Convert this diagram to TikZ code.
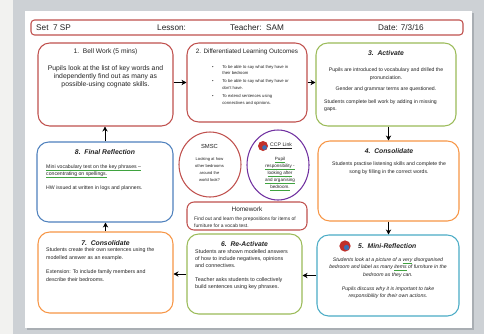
\documentclass[tikz,border=0pt]{standalone}
\usepackage{fontspec}
\setmainfont{Liberation Sans}
\usepackage{tikz}
\usetikzlibrary{arrows.meta, shapes.geometric, calc}
\definecolor{ink}{HTML}{222222}
\definecolor{redline}{HTML}{C0504D}
\definecolor{greenline}{HTML}{9BBB59}
\definecolor{orangeline}{HTML}{F79646}
\definecolor{blueline}{HTML}{4F81BD}
\definecolor{cyanline}{HTML}{4BACC6}
\definecolor{purpleline}{HTML}{7030A0}
\definecolor{squig}{HTML}{3FA33F}
\definecolor{leftbg}{HTML}{F2F2F0}
\definecolor{deskgray}{HTML}{CDD1D5}
\definecolor{shadowgray}{HTML}{A9AEB3}
\definecolor{iconred}{HTML}{C0302B}
\definecolor{iconblue}{HTML}{3A6FB5}
\newcommand\gul[1]{\setbox0\hbox{#1}\rlap{\textcolor{squig}{\rule[-0.6ex]{\wd0}{0.3pt}}}\box0}

\begin{document}
\begin{tikzpicture}[x=0.03cm, y=-0.03cm,
    stage/.style={rectangle, rounded corners=10pt, draw, line width=0.9pt,
                  fill=white, inner sep=0pt},
    bubble/.style={ellipse, draw, line width=0.9pt, fill=white, inner sep=0pt},
    hdr/.style={anchor=west, inner sep=0pt, text=ink,
                font=\fontsize{7}{8}\selectfont},
    ttl/.style={inner sep=0pt, text=ink, font=\fontsize{5.7}{7}\selectfont},
    bttl/.style={inner sep=0pt, text=ink,
                 font=\fontsize{5.8}{7}\selectfont\bfseries\itshape},
    body/.style={inner sep=0pt, text=ink, font=\fontsize{4.4}{6.2}\selectfont},
    badge/.style={circle, fill=iconred, inner sep=0pt, minimum size=0.34cm},
    flow/.style={-{Stealth[length=1.5mm, width=1.6mm]}, line width=0.8pt, black}
  ]
    \useasboundingbox (0,0) rectangle (484,334);

    % Desk and page
    \fill[deskgray] (13,0) rectangle (484,334);
    \fill[leftbg] (0,0) rectangle (13,334);
    \fill[shadowgray] (27,13) rectangle (474,330);
    \fill[white] (25,11) rectangle (472,328);

    % Header strip
    \node[rectangle, rounded corners=3pt, draw=redline, line width=0.9pt,
          minimum width=12.96cm, minimum height=0.45cm] (head) at (247,27.5) {};
    \node[hdr] (set) at (36,27.5) {Set\ \ 7 SP};
    \node[hdr] (lesson) at (157,27.5) {Lesson:};
    \node[hdr] (teacher) at (230,27.5) {Teacher:\ \ SAM};
    \node[hdr] (date) at (378,27.5) {Date: 7/3/16};

    % Stage boxes
    \node[stage, draw=redline, minimum width=4.05cm, minimum height=2.49cm] (b1) at (105.5,84.5) {};
    \node[stage, draw=redline, minimum width=3.6cm, minimum height=2.37cm] (b2) at (247,82.5) {};
    \node[stage, draw=greenline, minimum width=4.2cm, minimum height=2.49cm] (b3) at (386,84.5) {};
    \node[stage, draw=orangeline, minimum width=4.23cm, minimum height=2.4cm] (b4) at (388.5,181) {};
    \node[stage, draw=cyanline, minimum width=4.26cm, minimum height=2.43cm] (b5) at (388,275.5) {};
    \node[stage, draw=greenline, minimum width=3.45cm, minimum height=2.4cm] (b6) at (244.5,274) {};
    \node[stage, draw=orangeline, minimum width=4.05cm, minimum height=2.43cm] (b7) at (105.5,272.5) {};
    \node[stage, draw=blueline, minimum width=4.08cm, minimum height=2.4cm] (b8) at (105,182) {};

    % Centre panel
    \node[bubble, draw=redline, minimum width=1.86cm, minimum height=1.95cm] (smsc) at (210,164.5) {};
    \node[bubble, draw=purpleline, minimum width=1.86cm, minimum height=2.1cm] (ccp) at (278,165) {};
    \node[stage, draw=redline, rounded corners=6pt, minimum width=3.6cm, minimum height=0.84cm] (hw) at (247,216) {};

    % 1
    \node[ttl] (b1t) at (105.5,52) {1.\ \ Bell Work (5 mins)};
    \node[body, anchor=north, align=center, font=\fontsize{5.8}{7}\selectfont] (b1x) at (105.5,65)
      {Pupils look at the list of key words and\\
       independently find out as many as\\
       possible-using cognate skills.};

    % 2
    \node[ttl, font=\fontsize{5.4}{7}\selectfont] (b2t) at (247,52) {2. Differentiated Learning Outcomes};
    \node[body, anchor=north west, font=\fontsize{3.6}{5.9}\selectfont] (b2x) at (212,63)
      {\begin{tabular}{@{}c@{\hspace{2.6mm}}l@{}}
        \textbullet & To be able to say what they have in\\
                    & their bedroom\\[0.5pt]
        \textbullet & To be able to say what they have or\\
                    & don't have.\\[1pt]
        \textbullet & To extend sentences using\\
                    & connectives and opinions.
       \end{tabular}};

    % 3
    \node[bttl] (b3t) at (386,53) {3.\ \ Activate};
    \node[body, anchor=north, align=center] (b3x) at (386,68)
      {Pupils are introduced to vocabulary and drilled the\\
       pronunciation.\\[3.2pt]
       Gender and grammar terms are questioned.};
    \node[body, anchor=north west, align=left] (b3y) at (324,99.5)
      {Students complete bell work by adding in missing\\gaps.};

    % 4
    \node[bttl] (b4t) at (389,151) {4.\ \ Consolidate};
    \node[body, anchor=north, align=center] (b4x) at (389,162)
      {Students practise listening skills and complete the\\
       song by filling in the correct words.};

    % 5
    \node[badge] (b5i) at (345,246) {};
    \node[circle, fill=iconblue, inner sep=0pt, minimum size=0.16cm] (b5j) at (346.5,247.5) {};
    \node[bttl, anchor=west] (b5t) at (358,246) {5.\ \ Mini-Reflection};
    \node[body, anchor=north, align=center, font=\fontsize{4.4}{6.4}\selectfont\itshape] (b5x) at (388,257.5)
      {Students look at a picture of a \gul{very}\ disorganised\\
       bedroom and label as many \gul{items}\ of furniture in the\\
       bedroom as they can.\\[5.4pt]
       Pupils discuss why it is important to take\\
       responsibility for their own actions.};

    % 6
    \node[bttl] (b6t) at (244.5,244) {6.\ \ Re-Activate};
    \node[body, anchor=north west, align=left, font=\fontsize{4.6}{6}\selectfont] (b6x) at (195,249.5)
      {Students are shown modelled answers\\
       of how to include negatives, opinions\\
       and connectives.\\[6pt]
       Teacher asks students to collectively\\
       build sentences using key phrases.};

    % 7
    \node[bttl] (b7t) at (105.5,243) {7.\ \ Consolidate};
    \node[body, anchor=north west, align=left, font=\fontsize{4.5}{6.8}\selectfont] (b7x) at (46,247.5)
      {Students create their own sentences using the\\
       modelled answer as an example.\\[5pt]
       Extension: To include family members and\\
       describe their bedrooms.};

    % 8
    \node[bttl] (b8t) at (105,152) {8.\ \ Final Reflection};
    \node[body, anchor=north west, align=left, font=\fontsize{4.4}{6}\selectfont] (b8x) at (46,164.5)
      {\gul{Mini vocabulary test on the key phrases --}\\
       \gul{concentrating on spellings.}\\[6pt]
       HW issued at written in logs and planners.};

    % SMSC / CCP / homework
    \node[ttl, font=\fontsize{5}{6}\selectfont] (smsct) at (209.5,146) {SMSC};
    \node[body, anchor=north, align=center, font=\fontsize{3.5}{6}\selectfont] (smscx) at (209.5,157)
      {Looking at how\\other bedrooms\\around the\\world look?};
    \node[badge, minimum size=0.3cm] (ccpi) at (263,146) {};
    \node[circle, fill=iconblue, inner sep=0pt, minimum size=0.14cm] (ccpj) at (264.5,147.5) {};
    \node[ttl, anchor=west, font=\fontsize{4.4}{6}\selectfont] (ccpt) at (270,146) {\underline{CCP Link}};
    \node[body, anchor=north, align=center, font=\fontsize{3.9}{6}\selectfont] (ccpx) at (280,157)
      {\gul{Pupil}\\\gul{responsibility -}\\\gul{looking after}\\\gul{and organising}\\\gul{bedroom.}};
    \node[ttl, font=\fontsize{5.5}{6}\selectfont] (hwt) at (247,209) {Homework};
    \node[body, anchor=north west, align=left, font=\fontsize{4.2}{6}\selectfont] (hwx) at (194,216.5)
      {Find out and learn the prepositions for items of\\furniture for a vocab test.};

    % Arrows
    \draw[flow] (b1.east |- b2.west) -- (b2.west);
    \draw[flow] (b2.east) -- (b2.east -| b3.west);
    \draw[flow] (b4.north |- b3.south) -- (b4.north);
    \draw[flow] (b4.south) -- (b4.south |- b5.north);
    \draw[flow] (b5.west) -- (b5.west -| b6.east);
    \draw[flow] (b6.west) -- (b6.west -| b7.east);
    \draw[flow] (b7.north) -- (b7.north |- b8.south);
    \draw[flow] (b8.north) -- (b8.north |- b1.south);
  \end{tikzpicture}
\end{document}
